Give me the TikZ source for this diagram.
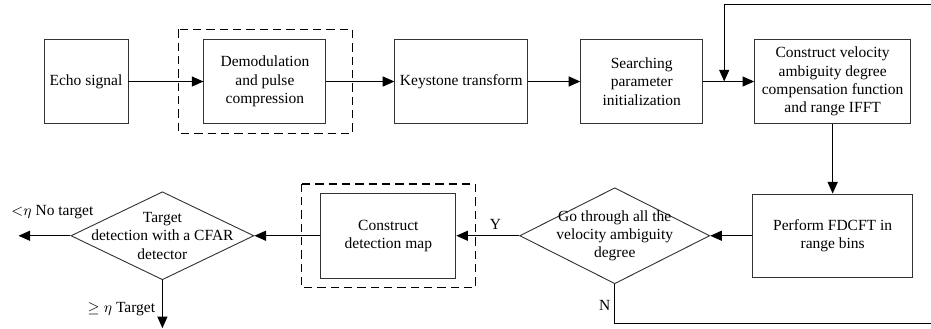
\documentclass[tikz,border=0pt]{standalone}
\usepackage{fontspec}
\setmainfont{Liberation Serif}
\usetikzlibrary{positioning, arrows.meta, shapes.geometric, calc}

\begin{document}
\begin{tikzpicture}[x=0.6pt, y=0.6pt, font=\fontsize{9.3}{11}\selectfont]
	% Define styles
	\tikzset{
		block/.style={rectangle, draw=black!80, line width=0.55pt, align=center, inner sep=2pt, minimum height=50pt},
		decision/.style={diamond, draw=black!80, line width=0.55pt, inner sep=0pt},
		group/.style={draw, dash pattern=on 5pt off 3pt, line width=0.9pt},
		line/.style={draw, line width=0.8pt, -{Triangle[length=7pt, width=6pt]}}
	}
	\useasboundingbox (0,0) rectangle (931,-328);
	
	% Nodes
	\node[block, minimum width=50.4pt] at (86,-81.5) (echo) {Echo signal};
	\node[block, minimum width=73.2pt, right=45pt of echo] (demod) {Demodulation\\and pulse\\compression};
	\node[block, minimum width=79.8pt, right=40.8pt of demod] (keys) {Keystone transform};
	\node[block, minimum width=73.2pt, right=31.2pt of keys] (search) {Searching\\parameter\\initialization};
	\node[block, minimum width=93.6pt, right=30.6pt of search] (cvel) {Construct velocity\\ambiguity degree\\compensation function\\and range IFFT};
	
	\node[block, minimum width=96pt, below=42pt of cvel] (fdcft) {Perform FDCFT in\\range bins};
	\node[decision, minimum width=114pt, minimum height=57.6pt, left=25.2pt of fdcft,
		label={[align=center]center:Go through all the\\velocity ambiguity\\degree}] (loop) {};
	\node[block, minimum width=81pt, minimum height=51pt, left=37.8pt of loop] (detmap) {Construct\\detection map};
	\node[decision, minimum width=109.8pt, minimum height=52.8pt, left=39.6pt of detmap,
		label={[align=center]center:Target\\detection with a CFAR\\detector}] (cfar) {};
	
	% Dashed groups
	\draw[group] ($(demod.north west)+(-25,10)$) rectangle ($(demod.south east)+(26,-10)$);
	\draw[group] ($(detmap.north west)+(-19,9)$) rectangle ($(detmap.south east)+(19,-9)$);
	
	% Free ends
	\coordinate (join) at ($(cvel.west)+(-30,0)$);
	\coordinate (fbR) at ($(fdcft.east)+(21,0)$);
	\coordinate (noTgt) at ($(cfar.west)+(-52,0)$);
	\coordinate (tgt) at ($(cfar.south)+(0,-48)$);
	
	% Arrows
	\path [line] (echo) -- (demod);
	\path [line] (demod) -- (keys);
	\path [line] (keys) -- (search);
	\path [line] (search) -- (cvel);
	\path [line] (cvel) -- (fdcft);
	\path [line] (fdcft) -- (loop);
	\path [line] (loop) -- node[above, pos=0.38] {Y} (detmap);
	\path [line] (detmap) -- (cfar);
	\path [line] (cfar.west) -- (noTgt);
	\path [line] (cfar.south) -- (tgt);
	\path [line] (loop.south) -- ++(0,-39) -| (fbR) |- ($(join)+(0,77)$) -- (join);
	
	% Labels
	\node (nlab) at ($(loop.south)+(-10,-21)$) {N};
	\node (ltlab) at ($(cfar.west)+(-18,24)$) {${<}\eta$ No target};
	\node (gelab) at ($(cfar.south)+(-41,-29)$) {$\geq\eta$ Target};
\end{tikzpicture}
\end{document}
